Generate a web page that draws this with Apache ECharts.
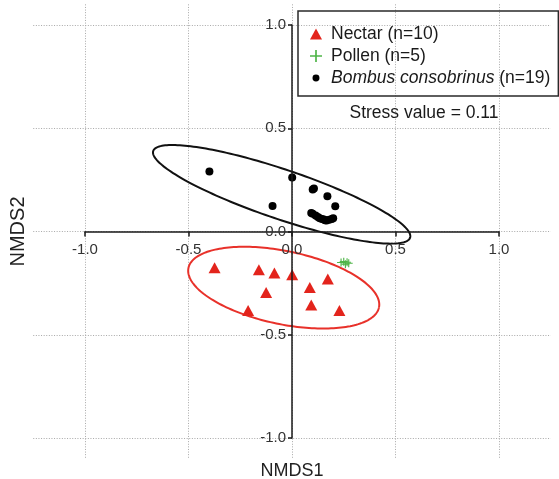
<!DOCTYPE html>
<html><head><meta charset="utf-8">
<script src="https://cdn.jsdelivr.net/npm/echarts@6/dist/echarts.min.js"></script>
<style>html,body{margin:0;padding:0;background:#fff}#c{width:559px;height:479px}</style>
</head><body><div id="c"></div>
<script>
// ---- data ----
const nectarX = [-0.374, -0.160, -0.085, 0.001, 0.173, 0.086, -0.125, 0.093, -0.212, 0.229];
const nectarY = [-0.175, -0.185, -0.201, -0.209, -0.230, -0.271, -0.296, -0.356, -0.382, -0.382];
const pollenX = [0.237, 0.250, 0.258, 0.266, 0.274];
const pollenY = [-0.150, -0.146, -0.158, -0.149, -0.154];
const bombusX = [-0.399, -0.094, 0.001, 0.100, 0.106, 0.171, 0.209, 0.093, 0.100, 0.114, 0.125, 0.134, 0.145, 0.154, 0.160, 0.167, 0.180, 0.192, 0.199];
const bombusY = [0.291, 0.124, 0.262, 0.203, 0.208, 0.171, 0.122, 0.090, 0.086, 0.077, 0.070, 0.064, 0.060, 0.058, 0.055, 0.053, 0.057, 0.061, 0.064];
// ellipse: [centerX, centerY, semiMajor, semiMinor, angleDeg]
const bombusEllipse = [-0.05, 0.18, 0.655, 0.12, -18.7];
const nectarEllipse = [-0.04, -0.272, 0.47, 0.177, -11.75];
const tickValues = [-1, -0.5, 0, 0.5, 1];
const seriesNames = ['Nectar (n=10)', 'Pollen (n=5)', 'Bombus consobrinus (n=19)'];
const xName = 'NMDS1';
const yName = 'NMDS2';
const stressText = 'Stress value = 0.11';

const FONT = '"Liberation Sans", Arial, Helvetica, sans-serif';
const zip = (xs, ys) => xs.map((x, i) => [x, ys[i]]);

const plusPath = 'path://M4.3,0 h1.4 v4.3 h4.3 v1.4 h-4.3 v4.3 h-1.4 v-4.3 h-4.3 v-1.4 h4.3 Z';
const triPath = 'path://M6,0.5 L11.5,10.5 L0.5,10.5 Z';
const dotPath = 'path://M0,0 L0.01,0.01 Z M12,12 L12.01,12.01 Z M2.5,6 A3.5,3.5 0 1 0 9.5,6 A3.5,3.5 0 1 0 2.5,6 Z';

function ellipseSeries(params, color) {
  return {
    type: 'custom', xAxisIndex: 0, yAxisIndex: 0, silent: true, z: 3,
    data: [params], encode: { x: 0, y: 1 },
    renderItem: function (p, api) {
      const cx = api.value(0), cy = api.value(1), a = api.value(2), b = api.value(3);
      const ang = api.value(4) * Math.PI / 180;
      const pts = [];
      for (let i = 0; i <= 200; i++) {
        const t = i / 200 * 2 * Math.PI;
        const ex = a * Math.cos(t), ey = b * Math.sin(t);
        pts.push(api.coord([cx + ex * Math.cos(ang) - ey * Math.sin(ang), cy + ex * Math.sin(ang) + ey * Math.cos(ang)]));
      }
      return { type: 'polyline', shape: { points: pts }, style: { stroke: color, fill: null, lineWidth: 2 } };
    }
  };
}

const axisColor = '#1a1a1a';
const gridColor = '#a8a8a8';
const IW = 414, IH = 413;

const option = {
  animation: false,
  backgroundColor: '#fff',
  grid: [
    { left: 85, width: IW, top: 25, height: IH, outerBoundsMode: 'none', containLabel: false },
    { left: 85 - 0.25 * 207, width: 2.5 * 207, top: 25 - 0.1 * 206.5, height: 2.2 * 206.5, outerBoundsMode: 'none', containLabel: false }
  ],
  xAxis: [
    {
      gridIndex: 0, type: 'value', min: -1, max: 1, interval: 0.5, z: 5,
      position: 'bottom', offset: -IH / 2,
      axisLine: { onZero: false, lineStyle: { color: axisColor, width: 1.5 } },
      axisTick: { show: true, length: 5, lineStyle: { color: axisColor, width: 1.5 } },
      axisLabel: { formatter: v => v.toFixed(1), fontSize: 15, color: '#333', margin: 11, fontFamily: FONT },
      splitLine: { show: false }
    },
    {
      gridIndex: 1, type: 'value', min: -1.25, max: 1.25, interval: 0.25, position: 'bottom',
      axisLine: { show: false, onZero: false }, axisTick: { show: false }, axisLabel: { show: false },
      splitLine: { show: true, lineStyle: { color: ['transparent', gridColor], type: [1, 1.6], width: 1 } },
      name: xName, nameLocation: 'middle', nameGap: 3,
      nameTextStyle: { fontSize: 18, color: '#222', fontFamily: FONT, verticalAlign: 'top' }
    }
  ],
  yAxis: [
    {
      gridIndex: 0, type: 'value', min: -1, max: 1, interval: 0.5, z: 5,
      position: 'left', offset: -IW / 2,
      axisLine: { onZero: false, lineStyle: { color: axisColor, width: 1.5 } },
      axisTick: { show: true, length: 4, lineStyle: { color: axisColor, width: 1.5 } },
      axisLabel: { formatter: v => v.toFixed(1), fontSize: 15, color: '#333', margin: 6, fontFamily: FONT },
      splitLine: { show: false }
    },
    {
      gridIndex: 1, type: 'value', min: -1.1, max: 1.1, interval: 0.1, position: 'left',
      axisLine: { show: false, onZero: false }, axisTick: { show: false }, axisLabel: { show: false },
      splitLine: { show: true, lineStyle: { color: ['transparent', gridColor, 'transparent', 'transparent', 'transparent'], type: [1, 1.6], width: 1 } },
      name: yName, nameLocation: 'middle', nameGap: 5,
      nameTextStyle: { fontSize: 20, color: '#222', fontFamily: FONT }
    }
  ],
  legend: {
    orient: 'vertical', left: 298, top: 11,
    padding: [14, 8, 9, 12], itemGap: 4, itemWidth: 12, itemHeight: 12,
    borderColor: '#2a2a2a', borderWidth: 1.5, backgroundColor: 'transparent',
    selectedMode: false,
    data: [
      { name: seriesNames[0], icon: triPath },
      { name: seriesNames[1], icon: plusPath },
      { name: seriesNames[2], icon: dotPath }
    ],
    formatter: function (name) {
      if (name === seriesNames[2]) {
        const m = name.match(/^(.*?)\s(\(.*\))$/);
        return '{i|' + m[1] + '}{n| ' + m[2] + '}';
      }
      return '{p|' + name + '}';
    },
    textStyle: {
      fontSize: 17.5, color: '#1a1a1a', fontFamily: FONT,
      rich: {
        p: { fontSize: 17.5, color: '#1a1a1a', fontFamily: FONT, padding: [0, 0, 0, 4] },
        i: { fontSize: 17.5, color: '#1a1a1a', fontFamily: FONT, fontStyle: 'italic', padding: [0, 0, 0, 4] },
        n: { fontSize: 17.5, color: '#1a1a1a', fontFamily: FONT }
      }
    }
  },
  graphic: [
    { type: 'text', x: 424, y: 113.5, z: 10,
      style: { text: stressText, fontSize: 17.5, fontFamily: FONT, fill: '#1a1a1a', align: 'center', verticalAlign: 'middle' } }
  ],
  series: [
    ellipseSeries(bombusEllipse, '#111'),
    ellipseSeries(nectarEllipse, '#e8312a'),
    {
      name: seriesNames[0], type: 'scatter', xAxisIndex: 0, yAxisIndex: 0, z: 4,
      symbol: 'triangle', symbolSize: [12, 11], itemStyle: { color: '#e3241c', opacity: 1 },
      data: zip(nectarX, nectarY)
    },
    {
      name: seriesNames[1], type: 'scatter', xAxisIndex: 0, yAxisIndex: 0, z: 4,
      symbol: plusPath, symbolSize: 8, itemStyle: { color: '#4fb548', opacity: 1 },
      data: zip(pollenX, pollenY)
    },
    {
      name: seriesNames[2], type: 'scatter', xAxisIndex: 0, yAxisIndex: 0, z: 4,
      symbol: 'circle', symbolSize: 8, itemStyle: { color: '#000', opacity: 1 },
      data: zip(bombusX, bombusY)
    }
  ]
};

const chart = echarts.init(document.getElementById('c'), null, { renderer: 'canvas' });
chart.setOption(option);
</script>
</body></html>
